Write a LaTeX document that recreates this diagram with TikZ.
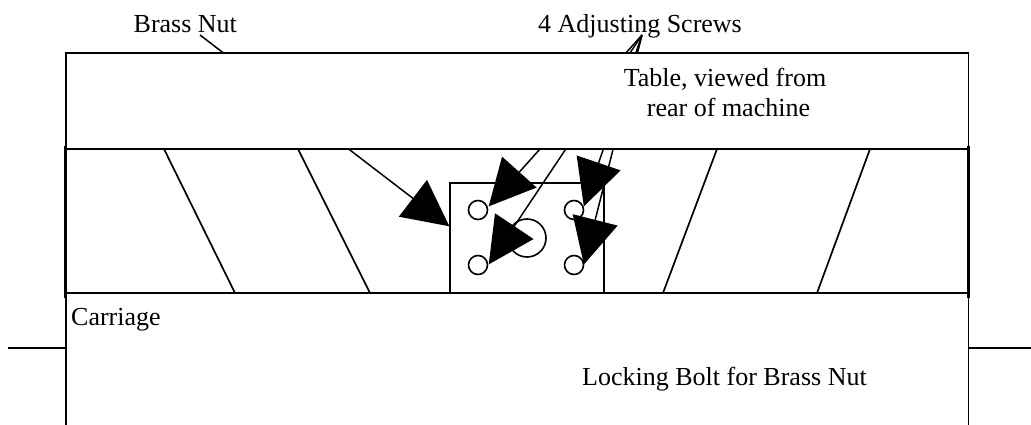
\documentclass[tikz,border=0pt]{standalone}
\usepackage{fontspec}
\setmainfont{Liberation Serif}
\usetikzlibrary{arrows.meta}
\tikzset{
  frame/.style={line width=1.8pt,black},
  heavy/.style={line width=3.2pt,black},
  thin line/.style={line width=1.7pt,black},
  leader/.style={line width=1.5pt,black,-{Triangle[length=46pt,width=46pt]},shorten >=-0.5pt},
  hole/.style={circle,draw,line width=1.6pt,fill=white,minimum size=19pt,inner sep=0pt,outer sep=0pt},
  bolt/.style={circle,draw,line width=1.6pt,minimum size=38pt,inner sep=0pt,outer sep=0pt},
  lab/.style={anchor=base west,inner sep=0pt,font=\fontsize{26pt}{30pt}\selectfont},
}
\begin{document}
\begin{tikzpicture}[x=1pt,y=-1pt]
\useasboundingbox (0,0) rectangle (1031,425);
% sliding block stripes
\draw[thin line] (164,149) -- (235,293);
\draw[thin line] (298,149) -- (370,293);
\draw[thin line] (717,149) -- (663,293);
\draw[thin line] (870,149) -- (817,293);
% nut plate, bolt and screws
\node[draw,line width=2pt,anchor=north west,minimum width=153.8pt,minimum height=110.5pt,inner sep=0pt,outer sep=0pt] (plate) at (449.8,182.5) {};
\node[bolt] (boltc) at (527,238) {};
\node[hole] (s1) at (478,210) {};
\node[hole] (s2) at (478,265) {};
\node[hole] (s3) at (574,210) {};
\node[hole] (s4) at (574,265) {};
% leaders
\coordinate (nutfrom) at (200,35);
\coordinate (screwfrom) at (642,35);
\coordinate (nuttip) at (449,226);
\coordinate (t1) at (489,206);
\coordinate (t2) at (489,264);
\coordinate (t3) at (584,206);
\coordinate (t4) at (584,264);
\draw[leader] (nutfrom) -- (nuttip);
\draw[leader] (screwfrom) -- (t1);
\draw[leader] (screwfrom) -- (t2);
\draw[leader] (screwfrom) -- (t3);
\draw[leader] (screwfrom) -- (t4);
% table covers the leaders
\fill[white] (65.8,52.5) rectangle (968.5,149);
% frame
\draw[frame] (65.8,425) -- (65.8,52.7) -- (968.5,52.7) -- (968.5,425);
\draw[line width=2.2pt] (65.8,149) -- (968.5,149);
\draw[frame] (65.8,293) -- (968.5,293);
\draw[heavy] (65.7,146) -- (65.7,298);
\draw[heavy] (968.5,146) -- (968.5,298);
\draw[frame] (8,348.2) -- (65.8,348.2);
\draw[frame] (968.5,348.2) -- (1031,348.2);
% labels
\node[lab] (brass) at (133.5,32.5) {Brass Nut};
\node[lab] (screws) at (538,32.5) {4 Adjusting Screws};
\node[font=\fontsize{26pt}{30pt}\selectfont,align=center,inner sep=0pt,anchor=base] (table) at (725,117) {Table, viewed from\\\hspace*{7pt}rear of machine};
\node[lab] (carriage) at (71,325) {Carriage};
\node[lab] (locking) at (582,385) {Locking Bolt for Brass Nut};
\end{tikzpicture}
\end{document}
